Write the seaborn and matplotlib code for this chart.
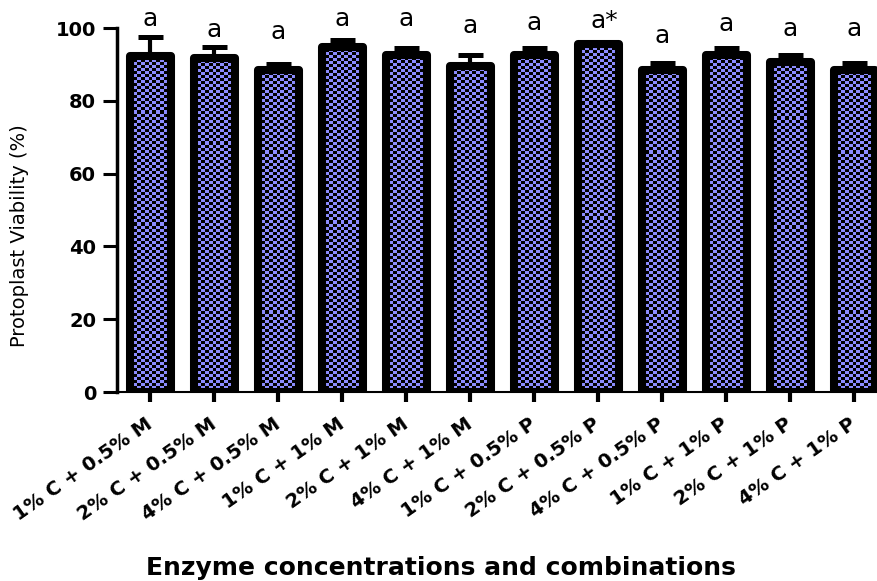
import numpy as np
import pandas as pd
import matplotlib
matplotlib.use("Agg")
import matplotlib.pyplot as plt
from matplotlib.colors import ListedColormap
import seaborn as sns

# values
treatments = [
    "1% C + 0.5% M", "2% C + 0.5% M", "4% C + 0.5% M",
    "1% C + 1% M", "2% C + 1% M", "4% C + 1% M",
    "1% C + 0.5% P", "2% C + 0.5% P", "4% C + 0.5% P",
    "1% C + 1% P", "2% C + 1% P", "4% C + 1% P",
]
viability = [92.3, 91.8, 88.5, 94.8, 92.6, 89.6, 92.6, 95.6, 88.5, 92.6, 90.6, 88.5]
sd = [5.1, 3.1, 1.7, 1.8, 1.8, 3.1, 1.8, 0.0, 2.0, 1.8, 2.0, 2.0]
letters = ["a", "a", "a", "a", "a", "a", "a", "a*", "a", "a", "a", "a"]
letter_y = [100.5, 97.5, 96.9, 100.5, 100.5, 98.6, 99.5, 100.0, 95.9, 99.2, 97.8, 97.8]

df = pd.DataFrame({"treatment": treatments, "viability": viability})

sns.set_style("ticks")
plt.rcParams["font.family"] = ["DejaVu Sans"]
plt.rcParams.update({"text.color": "black", "axes.labelcolor": "black",
                     "xtick.color": "black", "ytick.color": "black",
                     "axes.edgecolor": "black"})

fig = plt.figure(figsize=(8.77, 5.81), dpi=100)
ax = fig.add_axes([117 / 877, 189 / 581, 763 / 877, 364 / 581])

sns.barplot(data=df, x="treatment", y="viability", color="#8c8cff", width=0.64,
            edgecolor="black", linewidth=5.8, errorbar=None, ax=ax)

# checkerboard fill inside each bar
checker_cmap = ListedColormap(["#000000", "#8c8cff"])
for patch in ax.patches:
    x0, y0 = patch.get_x(), patch.get_y()
    w, h = patch.get_width(), patch.get_height()
    ncols = max(int(w * 64 / 3.6), 1)
    nrows = max(int(h * 3.64 / 3.0), 1)
    board = np.indices((nrows, ncols)).sum(axis=0) % 2
    im = ax.imshow(board, extent=[x0, x0 + w, y0, y0 + h], cmap=checker_cmap,
                   interpolation="nearest", aspect="auto", zorder=patch.get_zorder() - 0.1)
    im.set_clip_path(patch)
    patch.set_facecolor("none")
    patch.set_joinstyle("round")

# upper error bars only
ax.errorbar(range(len(viability)), viability, yerr=[np.zeros(len(sd)), sd], fmt="none",
            ecolor="black", elinewidth=3, capsize=9, capthick=3.6, zorder=1)

for i, (lab, ly) in enumerate(zip(letters, letter_y)):
    shift = 4 if lab.endswith("*") else 0
    ax.annotate(lab, xy=(i, ly), xytext=(shift, 0), textcoords="offset points",
                ha="center", va="baseline", fontsize=18, annotation_clip=False)

ax.set_xlim(-0.52, 11.4)
ax.set_ylim(0, 100)
ax.set_yticks([0, 20, 40, 60, 80, 100])

sns.despine(ax=ax)
ax.spines["left"].set_linewidth(2.5)
ax.spines["bottom"].set_linewidth(1.5)

ax.tick_params(axis="y", length=10, width=2.2, labelsize=14, pad=5)
ax.tick_params(axis="x", length=7, width=3, pad=15)
for t in ax.get_yticklabels():
    t.set_fontweight("bold")
ax.set_xticks(range(len(treatments)))
ax.set_xticklabels(treatments, rotation=35, ha="right", va="center",
                   rotation_mode="anchor", fontweight="bold", fontsize=14)

ax.set_xlabel("")
ax.set_ylabel("")
fig.text(441 / 877, 1 - 568 / 581, "Enzyme concentrations and combinations",
         ha="center", va="center", fontsize=18, fontweight="bold")
fig.text(20 / 877, 1 - 236 / 581, "Protoplast Viability (%)",
         ha="center", va="center", rotation=90, fontsize=14)

plt.savefig("out.png", dpi=100)
